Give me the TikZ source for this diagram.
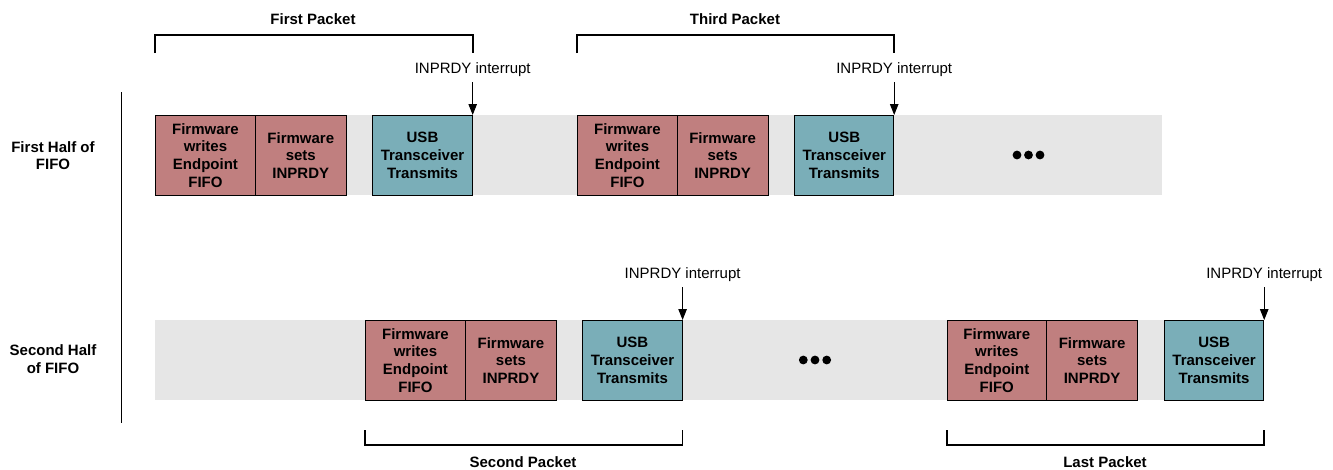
\documentclass[tikz,border=0pt]{standalone}
\usepackage{fontspec}
\setmainfont{Liberation Sans}
\usetikzlibrary{arrows.meta}
\definecolor{fwred}{RGB}{192,127,127}
\definecolor{usbteal}{RGB}{122,174,184}
\definecolor{bandgray}{RGB}{230,230,230}
\tikzset{
  band/.style={fill=bandgray, draw=none, anchor=north west, minimum height=80pt, inner sep=0pt},
  fwbox/.style={fill=fwred, draw=black, line width=0.9pt, anchor=north west, minimum height=80pt, inner sep=0pt, align=center, font=\fontsize{15}{17.7}\selectfont\bfseries},
  usbbox/.style={fill=usbteal, draw=black, line width=0.9pt, anchor=north west, minimum height=80pt, minimum width=99.5pt, inner sep=0pt, align=center, font=\fontsize{15}{17.7}\selectfont\bfseries},
  title/.style={font=\fontsize{15}{17.7}\selectfont\bfseries, align=center, inner sep=0pt},
  irq/.style={font=\fontsize{15}{17.7}\selectfont, inner sep=0pt},
  bracket/.style={draw=black, line width=1.7pt},
  irqarrow/.style={draw=black, line width=1pt, -{Triangle[length=11pt,width=8.5pt]}},
  dot/.style={circle, fill=black, inner sep=0pt, minimum size=8.8pt}
}
\begin{document}
\begin{tikzpicture}[x=1pt,y=-1pt]
\useasboundingbox (0,0) rectangle (1333,469);
% bands
\node[band, minimum width=1007pt] (band1) at (155,115) {};
\node[band, minimum width=1108pt] (band2) at (155,320) {};
% left divider
\coordinate (vtop) at (121,92);
\coordinate (vbot) at (121,423);
\draw[line width=0.9pt] (vtop) -- (vbot);
\node[title] (half1) at (53,155.5) {First Half of\\FIFO};
\node[title] (half2) at (53,359) {Second Half\\of FIFO};
% row 1, first packet
\node[fwbox, minimum width=100pt] (a1) at (155,115) {Firmware\\writes\\Endpoint\\FIFO};
\node[fwbox, minimum width=90.7pt] (a2) at (255,115) {Firmware\\sets\\INPRDY};
\node[usbbox] (a3) at (372.3,115) {USB\\Transceiver\\Transmits};
% row 1, third packet
\node[fwbox, minimum width=99.4pt] (c1) at (577.3,115) {Firmware\\writes\\Endpoint\\FIFO};
\node[fwbox, minimum width=91pt] (c2) at (676.7,115) {Firmware\\sets\\INPRDY};
\node[usbbox, minimum width=99pt] (c3) at (794.3,115) {USB\\Transceiver\\Transmits};
% row 2, second packet
\node[fwbox, minimum width=100pt] (b1) at (365,320) {Firmware\\writes\\Endpoint\\FIFO};
\node[fwbox, minimum width=91pt] (b2) at (465,320) {Firmware\\sets\\INPRDY};
\node[usbbox, minimum width=99.4pt] (b3) at (582.3,320) {USB\\Transceiver\\Transmits};
% row 2, last packet
\node[fwbox, minimum width=99.3pt] (d1) at (946.7,320) {Firmware\\writes\\Endpoint\\FIFO};
\node[fwbox, minimum width=91.3pt] (d2) at (1046,320) {Firmware\\sets\\INPRDY};
\node[usbbox, minimum width=99.3pt] (d3) at (1164,320) {USB\\Transceiver\\Transmits};
% ellipses
\node[dot] (e11) at (1017,155) {};
\node[dot] (e12) at (1028.5,155) {};
\node[dot] (e13) at (1040,155) {};
\node[dot] (e21) at (803.3,360) {};
\node[dot] (e22) at (815,360) {};
\node[dot] (e23) at (826.7,360) {};
% interrupt labels and arrows
\node[irq] (ia) at (a3.north east |- 0,70) {INPRDY interrupt};
\node[irq] (ic) at (c3.north east |- 0,70) {INPRDY interrupt};
\node[irq] (ib) at (b3.north east |- 0,275) {INPRDY interrupt};
\node[irq] (id) at (d3.north east |- 0,275) {INPRDY interrupt};
\draw[irqarrow] (a3.north east |- 0,82) -- (a3.north east);
\draw[irqarrow] (c3.north east |- 0,82) -- (c3.north east);
\draw[irqarrow] (b3.north east |- 0,287) -- (b3.north east);
\draw[irqarrow] (d3.north east |- 0,287) -- (d3.north east);
% brackets
\draw[bracket] (a1.north west |- 0,53) |- (a3.north east |- 0,35) -- (a3.north east |- 0,53);
\draw[bracket] (c1.north west |- 0,53) |- (c3.north east |- 0,35) -- (c3.north east |- 0,53);
\draw[bracket] (b1.south west |- 0,430) |- (b3.south east |- 0,445) -- (b3.south east |- 0,430);
\draw[bracket] (d1.south west |- 0,430) |- (d3.south east |- 0,445) -- (d3.south east |- 0,430);
\node[title] (pa) at (313,19) {First Packet};
\node[title] (pc) at (735,19) {Third Packet};
\node[title] (pb) at (523,462) {Second Packet};
\node[title] (pd) at (1105,462) {Last Packet};
\end{tikzpicture}
\end{document}
